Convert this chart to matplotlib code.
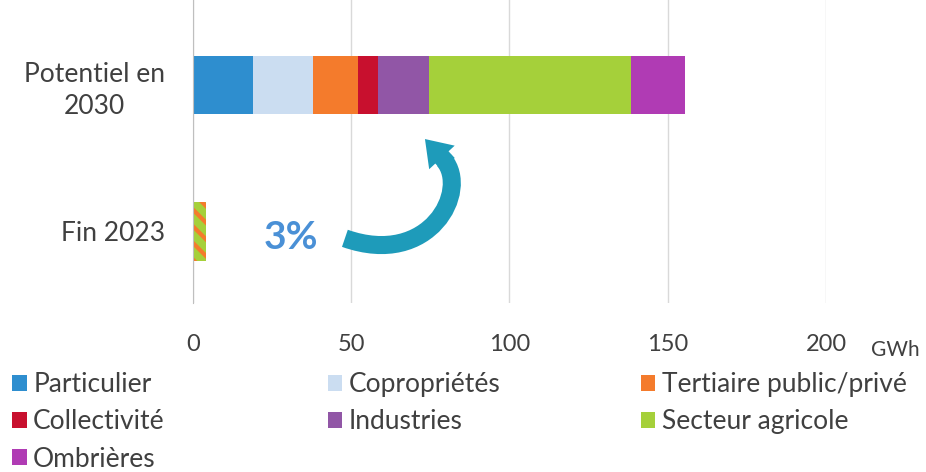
import matplotlib
matplotlib.use("Agg")
import matplotlib.pyplot as plt
from matplotlib.patches import FancyArrowPatch, PathPatch
from matplotlib.path import Path

plt.rcParams["font.family"] = ["Lato", "DejaVu Sans"]
plt.rcParams["hatch.linewidth"] = 3.0

# data (GWh)
categories = ["Fin 2023", "Potentiel en\n2030"]
segments = ["Particulier", "Copropriétés", "Tertiaire public/privé", "Collectivité",
            "Industries", "Secteur agricole", "Ombrières"]
potentiel_2030 = [19, 19, 14, 6.5, 16, 64, 17]
fin_2023 = 4.0
share_label = "3%"
xticks = [0, 50, 100, 150, 200]

colors = ["#2E8ECF", "#CBDDF1", "#F47B2C", "#C8102E", "#9156A6", "#A5D03A", "#B03BB4"]
txt = "#404040"
teal = "#1E9BBA"

fig = plt.figure(figsize=(9.26, 4.72), dpi=100)
ax = fig.add_axes([0.2084, 0.358, 0.6836, 0.642])

left = 0
bars = []
for name, val, col in zip(segments, potentiel_2030, colors):
    b = ax.barh(1, val, left=left, height=0.4, color=col, label=name)
    bars.append(b)
    left += val

ax.barh(0, fin_2023, height=0.4, color="#A5D03A", edgecolor="#F47B2C",
        hatch="\\\\", linewidth=0)

ax.set_xlim(0, 200)
ax.set_ylim(-0.49, 1.58)
ax.set_xticks(xticks)
ax.set_xticklabels([str(t) for t in xticks], fontsize=17, color=txt)
ax.set_yticks([0, 1])
ax.set_yticklabels(categories, fontsize=19, color=txt)
for lbl in ax.get_yticklabels():
    lbl.set_multialignment("center")
    lbl.set_linespacing(1.35)
ax.tick_params(axis="x", length=0, pad=22)
ax.tick_params(axis="y", length=0, pad=20)
ax.grid(axis="x", color="#D9D9D9", linewidth=1)
ax.set_axisbelow(True)
for s in ["top", "right", "bottom"]:
    ax.spines[s].set_visible(False)
ax.spines["left"].set_color("#BFBFBF")

ax.text(1.11, -0.155, "GWh", transform=ax.transAxes, fontsize=15, color=txt,
        ha="center", va="center")

# 3% annotation and curved arrow (body = cubic curve, head = short straight arrow)
ax.text(31, -0.04, share_label, fontsize=28, fontweight="bold", color="#4A90D6",
        ha="center", va="center")
body = Path([(48.0, -0.048), (74.9, -0.253), (87.5, 0.281), (79.3, 0.486)],
            [Path.MOVETO, Path.CURVE4, Path.CURVE4, Path.CURVE4])
ax.add_patch(PathPatch(body, fill=False, edgecolor=teal, linewidth=13,
                       capstyle="butt"))
head = FancyArrowPatch((81.2, 0.445), (72.7, 0.644),
                       arrowstyle="simple,head_width=2.5,head_length=1.8,tail_width=1.3",
                       mutation_scale=10, color=teal, lw=0)
ax.add_patch(head)

# legend: three columns laid out row by row
handles = [b[0] for b in bars]
cols = [[0, 3, 6], [1, 4], [2, 5]]
xs = [0.013, 0.354, 0.692]
for idx, x0 in zip(cols, xs):
    fig.legend([handles[i] for i in idx], [segments[i] for i in idx],
               loc="upper left", bbox_to_anchor=(x0, 0.212), frameon=False,
               fontsize=19, handlelength=0.55, handleheight=0.55, handletextpad=0.25,
               labelspacing=0.47, borderaxespad=0, borderpad=0, labelcolor=txt)

fig.savefig("out.png", dpi=100)
